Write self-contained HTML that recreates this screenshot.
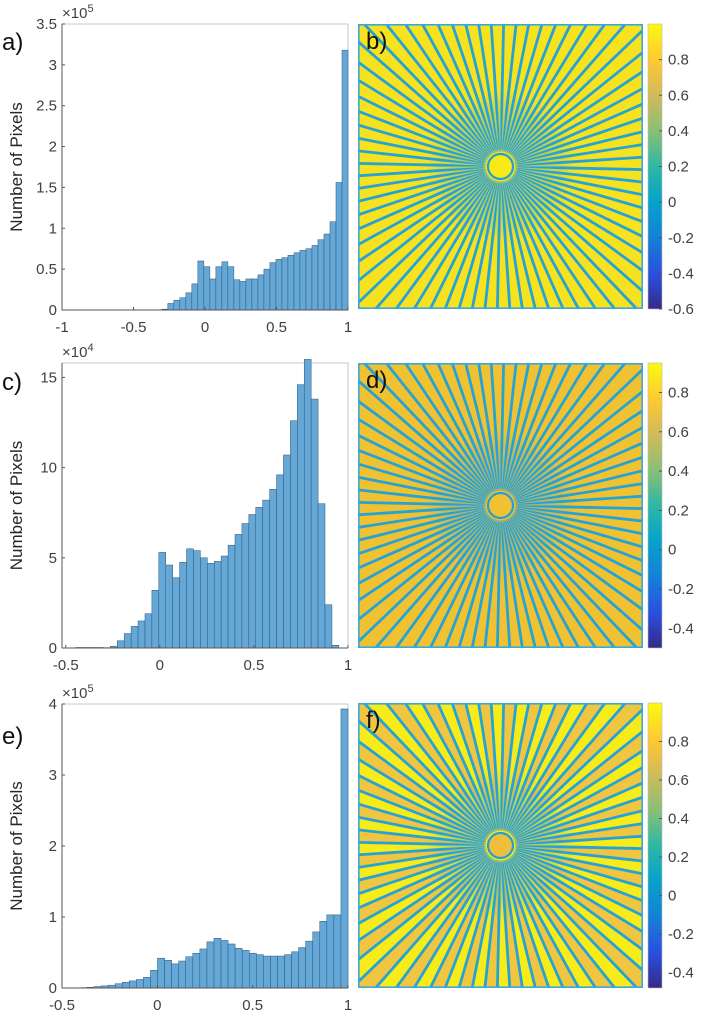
<!DOCTYPE html>
<html><head><meta charset="utf-8">
<style>
html,body{margin:0;padding:0;background:#fff;overflow:hidden;width:701px;height:1020px;}
svg{display:block;font-family:"Liberation Sans",sans-serif;}
.tick{font-size:15px;fill:#404040;}
.cbt{font-size:15px;fill:#404040;}
.plab{font-size:24px;fill:#111;}
.ylab{font-size:17px;fill:#262626;}
</style></head>
<body>
<svg id="fig" width="701" height="1020" viewBox="0 0 701 1020">
<defs>
<linearGradient id="parula" x1="0" y1="1" x2="0" y2="0">
<stop offset="0" stop-color="#352a87"/><stop offset="0.12" stop-color="#2a4ee0"/>
<stop offset="0.25" stop-color="#1481d6"/><stop offset="0.38" stop-color="#06a4ca"/>
<stop offset="0.5" stop-color="#2eb7a4"/><stop offset="0.62" stop-color="#87bf77"/>
<stop offset="0.75" stop-color="#d1bb59"/><stop offset="0.87" stop-color="#fec832"/>
<stop offset="1" stop-color="#f9fb0e"/></linearGradient>
<radialGradient id="cblue"><stop offset="0" stop-color="#2aa0d8" stop-opacity="0.6"/><stop offset="0.5" stop-color="#2aa0d8" stop-opacity="0.35"/><stop offset="1" stop-color="#2aa0d8" stop-opacity="0"/></radialGradient>
</defs>
</svg>
<script>
// Panel a histogram data (x1e5)
const aStart = -0.554, aWidth = 0.042;
const aValues = [0.002,0.002,0.002,0.002,0.002,0.002,0.01,0.08,0.12,0.15,0.21,0.32,
 0.60,0.53,0.38,0.53,0.59,0.53,0.37,0.35,0.38,0.38,0.43,0.50,0.58,0.62,0.64,0.67,0.70,0.73,0.75,0.79,0.86,0.93,1.08,1.56,3.18];
const aXTicks = [-1,-0.5,0,0.5,1];
const aYTicks = [0,0.5,1,1.5,2,2.5,3,3.5];
// Panel c histogram data (x1e4)
const cStart = -0.447, cWidth = 0.0368;
const cValues = [0.03,0.03,0.03,0.03,0.02,0.1,0.4,0.8,1.2,1.5,1.9,3.2,5.3,4.6,3.9,4.75,5.5,5.4,5.0,4.7,4.8,5.1,5.7,6.3,6.9,7.4,7.8,8.2,8.8,9.6,10.7,12.6,14.6,16,13.8,8.0,2.4,0.15];
const cXTicks = [-0.5,0,0.5,1];
const cYTicks = [0,5,10,15];
// Panel e histogram data (x1e5)
const eStart = -0.48, eWidth = 0.037;
const eValues = [0.002,0.003,0.005,0.01,0.02,0.03,0.04,0.06,0.08,0.10,0.12,0.15,0.25,
 0.42,0.39,0.34,0.38,0.44,0.49,0.55,0.65,0.70,0.67,0.62,0.56,0.53,0.49,0.47,0.45,0.45,0.45,0.47,0.51,0.57,0.66,0.79,0.94,1.03,1.03,3.93];
const eXTicks = [-0.5,0,0.5,1];
const eYTicks = [0,1,2,3,4];
// Colorbar ticks
const bCbTicks = [0.8,0.6,0.4,0.2,0,-0.2,-0.4,-0.6];
const dCbTicks = [0.8,0.6,0.4,0.2,0,-0.2,-0.4];
const fCbTicks = [0.8,0.6,0.4,0.2,0,-0.2,-0.4];

const NS="http://www.w3.org/2000/svg";
const svg=document.getElementById('fig');
function mk(tag,attrs,parent){const e=document.createElementNS(NS,tag);for(const k in attrs)e.setAttribute(k,attrs[k]);(parent||svg).appendChild(e);return e;}

function hist(p){
  const g=mk('g',{});
  
  
  const X=v=>p.x0+(v-p.xmin)/(p.xmax-p.xmin)*(p.x1-p.x0);
  const Y=v=>p.y1-(v-p.ymin)/(p.ymax-p.ymin)*(p.y1-p.y0);
  mk('rect',{x:p.x0,y:p.y0,width:p.x1-p.x0,height:p.y1-p.y0,fill:'#fff',stroke:'#c8c8c8','stroke-width':1},g);
  p.values.forEach((v,i)=>{
    const l=X(p.start+i*p.width), r=X(p.start+(i+1)*p.width);
    const b=mk('rect',{x:l,y:Y(v),width:r-l,height:Math.max(0,p.y1-Y(v)),fill:'#65a8d8',stroke:'#2f5673','stroke-width':0.5},g);
    
    
  });
  mk('line',{x1:p.x0,y1:p.y1,x2:p.x1,y2:p.y1,stroke:'#555','stroke-width':1},g);
  mk('line',{x1:p.x0,y1:p.y0,x2:p.x0,y2:p.y1,stroke:'#555','stroke-width':1},g);
  p.xt.forEach(t=>{const x=X(t);mk('line',{x1:x,y1:p.y1,x2:x,y2:p.y1-3,stroke:'#555'},g);
    const tx=mk('text',{x:x,y:p.y1+22,'text-anchor':'middle',class:'tick'},g);tx.textContent=String(t);
    
    });
  p.yt.forEach(t=>{const y=Y(t);mk('line',{x1:p.x0,y1:y,x2:p.x0+3,y2:y,stroke:'#555'},g);
    const tx=mk('text',{x:p.x0-5,y:y+5,'text-anchor':'end',class:'tick'},g);tx.textContent=String(t);
    
    });
  const ex=mk('text',{x:p.x0,y:p.y0-6,class:'tick'},g);ex.innerHTML='×10<tspan dy="-6" font-size="11">'+p.exp+'</tspan>';
  
  
  const yl=mk('text',{x:0,y:0,'text-anchor':'middle',class:'ylab',transform:'translate(22,'+((p.y0+p.y1)/2)+') rotate(-90)'},g);yl.textContent='Number of Pixels';
  
  
  const pl=mk('text',{x:2,y:p.ly,class:'plab'},g);pl.textContent=p.lab;
  
  
}
hist({name:'histogram-a',x0:62,x1:348,y0:24,y1:310,xmin:-1,xmax:1,ymin:0,ymax:3.5,start:aStart,width:aWidth,values:aValues,xt:aXTicks,yt:aYTicks,exp:'5',lab:'a)',ly:50});
hist({name:'histogram-c',x0:62,x1:348,y0:363,y1:648,xmin:-0.52,xmax:1,ymin:0,ymax:15.8,start:cStart,width:cWidth,values:cValues,xt:cXTicks,yt:cYTicks,exp:'4',lab:'c)',ly:390});
hist({name:'histogram-e',x0:62,x1:348,y0:704,y1:988,xmin:-0.5,xmax:1,ymin:0,ymax:4,start:eStart,width:eWidth,values:eValues,xt:eXTicks,yt:eYTicks,exp:'5',lab:'e)',ly:744});

function star(p){
  const g=mk('g',{});
  
  
  const id='clip'+p.lab[0];
  const cp=mk('clipPath',{id:id},g);mk('rect',{x:p.x0,y:p.y0,width:285,height:285},cp);
  const inner=mk('g',{'clip-path':'url(#'+id+')'},g);
  mk('rect',{x:p.x0,y:p.y0,width:285,height:285,fill:p.bg},inner);
  const cx=p.x0+142.5, cy=p.y0+142.5, N=72, R=260;
  if(p.alt){
    for(let i=0;i<N;i+=2){const a1=i*2*Math.PI/N+Math.PI/N*0.5,a2=(i+1)*2*Math.PI/N+Math.PI/N*0.5;
      mk('polygon',{points:cx+','+cy+' '+(cx+R*Math.cos(a1))+','+(cy+R*Math.sin(a1))+' '+(cx+R*Math.cos(a2))+','+(cy+R*Math.sin(a2)),fill:p.alt},inner);}
  }
  for(let i=0;i<N;i++){const a=i*2*Math.PI/N+Math.PI/N*0.5;
    const r0=17, w0=0.4, w1=1.4, r1=60;
    const ca=Math.cos(a), sa=Math.sin(a), nx=-sa, ny=ca;
    const pts=[[r0,w0],[r1,w1],[R,w1]];
    const left=pts.map(([r,w])=>(cx+r*ca+w*nx)+','+(cy+r*sa+w*ny));
    const right=pts.slice().reverse().map(([r,w])=>(cx+r*ca-w*nx)+','+(cy+r*sa-w*ny));
    mk('polygon',{points:left.concat(right).join(' '),fill:'#25a3d6'},inner);}
  mk('circle',{cx:cx,cy:cy,r:75,fill:'url(#cblue)'},inner);
  mk('circle',{cx:cx,cy:cy,r:15,fill:p.bg},inner);
  mk('circle',{cx:cx,cy:cy,r:12.5,fill:p.cfill,stroke:'#23a0d8','stroke-width':2.2},inner);
  mk('rect',{x:p.x0+0.8,y:p.y0+0.8,width:283.4,height:283.4,fill:'none',stroke:'#3aa8dc','stroke-width':1.6},inner);
  const pl=mk('text',{x:p.x0+8,y:p.y0+25,class:'plab'},g);pl.textContent=p.lab;
  
  
  const cb=mk('rect',{x:648,y:p.y0,width:14,height:285,fill:'url(#parula)',stroke:'#bbb','stroke-width':0.6},g);
  
  
  const Yc=v=>p.y0+285-(v-p.cmin)/(p.cmax-p.cmin)*285;
  p.ticks.forEach(t=>{const y=Yc(t);mk('line',{x1:659,y1:y,x2:662,y2:y,stroke:'#555'},g);
    const tx=mk('text',{x:668,y:y+5,class:'cbt'},g);tx.textContent=String(t);
    
    });
}
star({name:'siemens-star-b',x0:358,y0:24,bg:'#f6e21e',cfill:'#f8ea16',lab:'b)',cmin:-0.6,cmax:1.0,ticks:bCbTicks});
star({name:'siemens-star-d',x0:358,y0:363,bg:'#f0c232',cfill:'#f0c232',lab:'d)',cmin:-0.5,cmax:0.95,ticks:dCbTicks});
star({name:'siemens-star-f',x0:358,y0:703,bg:'#f7ec1a',alt:'#f0c640',cfill:'#efbe3c',lab:'f)',cmin:-0.48,cmax:1.0,ticks:fCbTicks});
</script>
</body></html>
